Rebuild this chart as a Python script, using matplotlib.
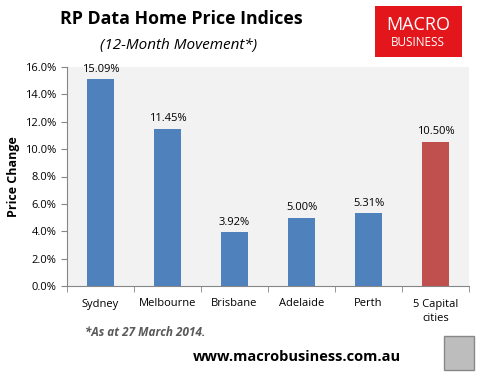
import matplotlib.pyplot as plt
import numpy as np
from matplotlib.patches import Rectangle
from matplotlib.ticker import FuncFormatter

plt.rcParams['font.family'] = ['Open Sans', 'DejaVu Sans']

cities = ['Sydney', 'Melbourne', 'Brisbane', 'Adelaide', 'Perth', '5 Capital\ncities']
changes = [15.09, 11.45, 3.92, 5.00, 5.31, 10.50]
colors = ['#4F81BD'] * 5 + ['#C0504D']

fig = plt.figure(figsize=(4.83, 3.74), dpi=100)
ax = fig.add_axes([67/483, 1 - 286/374, 402/483, 219/374])
ax.set_facecolor('#F2F2F2')

x = np.arange(len(cities))
ax.bar(x, changes, width=0.4, color=colors)
for xi, v in zip(x, changes):
    ax.text(xi, v + 0.35, '%.2f%%' % v, ha='center', va='bottom', fontsize=8)

ax.set_xlim(-0.5, len(cities) - 0.5)
ax.set_ylim(0, 16)
ax.set_yticks(np.arange(0, 16.1, 2))
ax.yaxis.set_major_formatter(FuncFormatter(lambda v, p: '%.1f%%' % v))
ax.set_xticks(x)
ax.set_xticklabels(cities, fontsize=8, linespacing=1.4)
ax.set_xticks(np.arange(-0.5, len(cities)), minor=True)
ax.tick_params(axis='x', which='major', length=0, pad=9)
ax.tick_params(axis='x', which='minor', length=4, color='#868686')
ax.tick_params(axis='y', labelsize=8, length=4, color='#868686')
for s in ['top', 'right']:
    ax.spines[s].set_visible(False)
for s in ['left', 'bottom']:
    ax.spines[s].set_color('#868686')
ax.set_ylabel('Price Change', fontsize=9, fontweight='bold', labelpad=4)

fig.text(181/483, 1 - 19/374, 'RP Data Home Price Indices', ha='center', va='center',
         fontsize=12.8, fontweight='bold')
fig.text(179/483, 1 - 45/374, '(12-Month Movement*)', ha='center', va='center',
         fontsize=11, style='italic')

# logo box
fig.patches.append(Rectangle((375/483, 1 - 57/374), 87/483, 51/374, transform=fig.transFigure,
                             facecolor='#E3171B', edgecolor='none'))
fig.text(418/483, 1 - 25/374, 'MACRO', ha='center', va='center', color='white', fontsize=13)
fig.text(418/483, 1 - 43/374, 'BUSINESS', ha='center', va='center', color='white', fontsize=8.5)

fig.text(85/483, 1 - 333/374, '*As at 27 March 2014.', ha='left', va='center',
         fontsize=8.5, style='italic', fontweight='bold', color='#595959')
fig.text(297/483, 1 - 357/374, 'www.macrobusiness.com.au', ha='center', va='center',
         fontsize=10.5, fontweight='bold')
fig.patches.append(Rectangle((444/483, 1 - 370/374), 30/483, 34/374, transform=fig.transFigure,
                             facecolor='#BDBDBD', edgecolor='#888888'))

fig.savefig('out.png', dpi=100)
